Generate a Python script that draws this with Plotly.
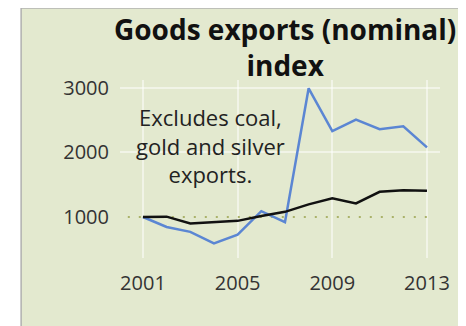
import plotly.graph_objects as go

years = list(range(2001, 2014))
goods_ex = [1000, 845, 770, 590, 725, 1090, 920, 2995, 2330, 2510, 2360, 2405, 2080]
goods_ex_excl = [1000, 1005, 900, 920, 940, 1015, 1080, 1195, 1290, 1210, 1390, 1415, 1405]

y_ticks = [1000, 2000, 3000]
x_ticks = [2001, 2005, 2009, 2013]
title_text = "<b>Goods exports (nominal)<br>index</b>"
note = "Excludes coal,<br>gold and silver<br>exports."

BG = "#e3e9cf"
FONT = "Open Sans"

fig = go.Figure()
fig.add_trace(go.Scatter(x=years, y=goods_ex, mode="lines",
                         line=dict(color="#5b86d3", width=2.5), hoverinfo="skip"))
fig.add_trace(go.Scatter(x=years, y=goods_ex_excl, mode="lines",
                         line=dict(color="#111111", width=2.5), hoverinfo="skip"))

# dotted base line at 1000
fig.add_shape(type="line", xref="x", yref="y", x0=2000.36, x1=2013.34, y0=1000, y1=1000,
              line=dict(color="#aab26a", width=2, dash="2px,9px"), layer="between")

# white outer margin + grey frame edge
fig.add_shape(type="rect", xref="paper", yref="paper", x0=-0.4, x1=-0.309, y0=-0.5, y1=1.5,
              fillcolor="white", line_width=0, layer="below")
fig.add_shape(type="line", xref="paper", yref="paper", x0=-0.309, x1=-0.309, y0=-0.5, y1=1.404,
              line=dict(color="#b0b0b0", width=1.5))
fig.add_shape(type="line", xref="paper", yref="paper", x0=-0.309, x1=1.2, y0=1.404, y1=1.404,
              line=dict(color="#b0b0b0", width=1.5))

fig.add_annotation(x=0.516, y=1.185, xref="paper", yref="paper", text=title_text,
                   showarrow=False, xanchor="center", yanchor="middle",
                   font=dict(family=FONT, size=28, color="#111111"), align="center")

fig.add_annotation(x=2003.87, y=2116, xref="x", yref="y", text=note, showarrow=False,
                   font=dict(family=FONT, size=22, color="#222222"), align="center")

fig.update_layout(
    width=466, height=326,
    margin=dict(l=112, r=34, t=72, b=76),
    paper_bgcolor=BG, plot_bgcolor=BG,
    showlegend=False,
    xaxis=dict(range=[2000.03, 2013.55], tickvals=x_ticks, showgrid=True,
               gridcolor="rgba(255,255,255,0.5)", gridwidth=1.5, zeroline=False,
               showline=False, ticklabelstandoff=11,
               tickfont=dict(family=FONT, size=20, color="#333333")),
    yaxis=dict(range=[364, 3124], tickvals=[2000, 3000], showgrid=True,
               gridcolor="rgba(255,255,255,0.5)", gridwidth=1.5, zeroline=False,
               showline=False, showticklabels=False),
    yaxis2=dict(range=[364, 3124], tickvals=y_ticks, overlaying="y", side="left",
                showgrid=False, zeroline=False, showline=False, ticklabelstandoff=10,
                tickfont=dict(family=FONT, size=20, color="#333333")),
)
# invisible trace to carry the y tick labels on the second axis
fig.add_trace(go.Scatter(x=[years[0]], y=[goods_ex[0]], yaxis="y2", mode="markers",
                         marker=dict(opacity=0), hoverinfo="skip"))

fig.write_html("out.html")
